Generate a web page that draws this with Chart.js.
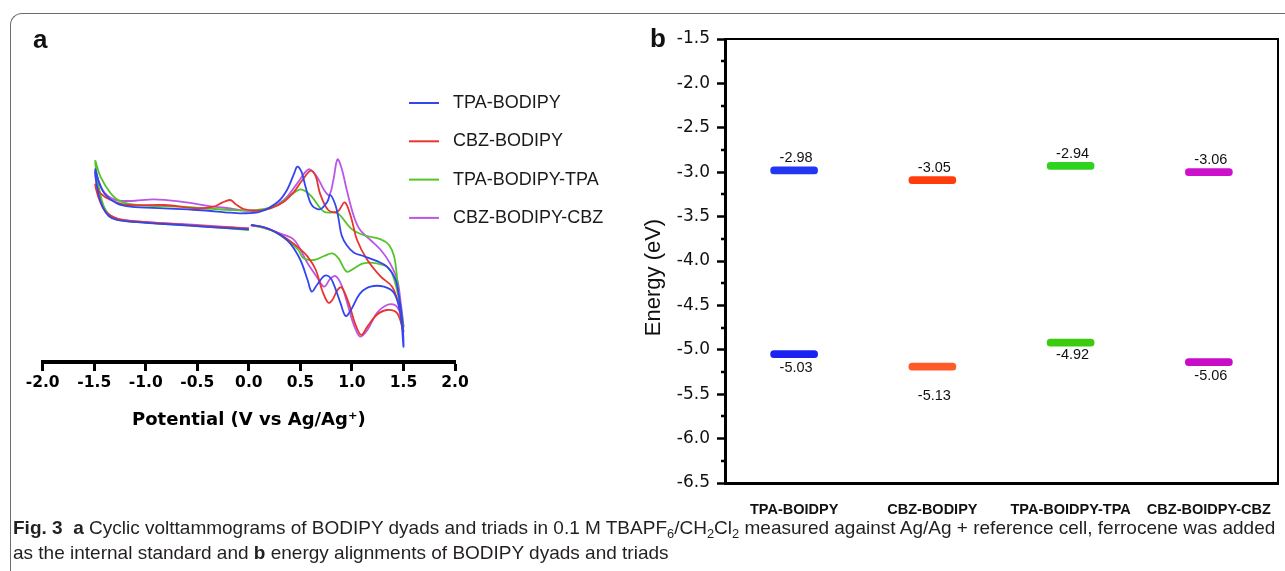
<!DOCTYPE html>
<html>
<head>
<meta charset="utf-8">
<script src="https://cdn.jsdelivr.net/npm/chart.js@4.4.1/dist/chart.umd.min.js"></script>
<style>
  html, body { margin: 0; padding: 0; background: #fff; }
  body { width: 1285px; height: 571px; position: relative; overflow: hidden; font-family: "Liberation Sans", Arial, sans-serif; }
  .frame { position: absolute; left: 10px; top: 13px; width: 1300px; height: 600px;
           border-left: 1.5px solid #6b6b6b; border-top: 1.5px solid #6b6b6b; border-top-left-radius: 12px; }
  .tag { position: absolute; font-weight: bold; font-size: 26px; line-height: 26px; color: #111; }
  canvas { position: absolute; top: 0; }
  #cvChart { left: 0; }
  #levelChart { left: 640px; }
  .caption { position: absolute; left: 13px; top: 515px; font-family: "Liberation Sans Narrow", "Liberation Sans", sans-serif;
             font-size: 19px; line-height: 25px; color: #231f20; white-space: nowrap; }
  .caption sub { font-size: 68%; vertical-align: -0.3em; line-height: 0; }
</style>
</head>
<body>
<div class="frame"></div>
<canvas id="cvChart" width="640" height="440"></canvas>
<canvas id="levelChart" width="645" height="520"></canvas>
<div class="tag" style="left:33px; top:26px;">a</div>
<div class="tag" style="left:650px; top:25px;">b</div>
<div class="caption"><b>Fig. 3</b>&nbsp; <b>a</b> Cyclic volttammograms of BODIPY dyads and triads in 0.1 M TBAPF<sub>6</sub>/CH<sub>2</sub>Cl<sub>2</sub> measured against Ag/Ag + reference cell, ferrocene was added<br>as the internal standard and <b>b</b> energy alignments of BODIPY dyads and triads</div>

<script>
// ========================
// PANEL A DATA (potential in V, current in arbitrary units)
// ========================
const cvNames = ['TPA-BODIPY', 'CBZ-BODIPY', 'TPA-BODIPY-TPA', 'CBZ-BODIPY-CBZ'];
const cvColors = ['#3346ee', '#e8352f', '#55c42b', '#bb55e8'];

// each trace: 0 V -> -1.5 V -> +1.5 V -> back to 0 V
const tpaPotential = [0.00, -0.34, -0.82, -1.15, -1.28, -1.36, -1.42, -1.46, -1.49,
  -1.45, -1.39, -1.28, -1.15, -0.82, -0.50, -0.18, -0.08, 0.11, 0.28, 0.37, 0.44, 0.47, 0.51, 0.55, 0.61, 0.69, 0.76, 0.79, 0.84,
  0.87, 0.90, 0.95, 1.02, 1.12, 1.25, 1.34, 1.42, 1.45, 1.49, 1.50,
  1.47, 1.41, 1.31, 1.18, 1.08, 0.99, 0.94, 0.89, 0.82, 0.78, 0.73, 0.66, 0.61, 0.57, 0.50, 0.40, 0.28, 0.15, 0.02];
const tpaCurrent = [3.98, 4.04, 4.14, 4.21, 4.26, 4.38, 4.66, 5.06, 5.78,
  5.36, 5.01, 4.76, 4.66, 4.61, 4.56, 4.48, 4.46, 4.51, 4.80, 5.16, 5.66, 5.86, 5.71, 5.26, 4.71, 4.58, 4.80, 5.01, 4.71,
  4.30, 3.80, 3.50, 3.28, 3.17, 3.02, 2.86, 2.50, 2.10, 1.20, 0.46,
  1.46, 2.06, 2.26, 2.26, 2.06, 1.56, 1.38, 1.76, 2.36, 2.56, 2.58, 2.31, 2.11, 2.46, 3.06, 3.56, 3.86, 4.04, 4.11];

const cbzPotential = [0.00, -0.34, -0.82, -1.15, -1.28, -1.39, -1.45, -1.49,
  -1.44, -1.34, -1.18, -0.82, -0.50, -0.34, -0.26, -0.18, -0.13, -0.05, 0.08, 0.21, 0.34, 0.44, 0.52, 0.60, 0.65, 0.69, 0.77, 0.86,
  0.93, 0.99, 1.05, 1.15, 1.28, 1.39, 1.45, 1.49, 1.50,
  1.44, 1.34, 1.24, 1.15, 1.09, 1.03, 0.97, 0.90, 0.86, 0.81, 0.77, 0.71, 0.65, 0.57, 0.47, 0.34, 0.18, 0.02];
const cbzCurrent = [4.01, 4.06, 4.16, 4.23, 4.30, 4.51, 4.86, 5.33,
  5.06, 4.86, 4.71, 4.71, 4.61, 4.66, 4.78, 4.86, 4.74, 4.59, 4.54, 4.61, 4.81, 5.11, 5.46, 5.74, 5.56, 5.06, 4.56, 4.51,
  4.79, 4.36, 3.66, 3.06, 2.56, 2.26, 1.76, 1.10, 0.91,
  1.46, 1.56, 1.41, 1.06, 0.81, 1.16, 1.76, 2.24, 2.16, 1.86, 1.78, 2.16, 2.76, 3.16, 3.46, 3.76, 4.01, 4.11];

const tpaTriadPotential = [0.00, -0.50, -0.99, -1.28, -1.39, -1.45, -1.49,
  -1.44, -1.34, -1.24, -1.08, -0.66, -0.18, 0.08, 0.28, 0.42, 0.50, 0.55, 0.61, 0.73, 0.86, 0.99, 1.11, 1.28, 1.36, 1.41, 1.44, 1.46, 1.50,
  1.47, 1.42, 1.36, 1.24, 1.11, 1.02, 0.95, 0.87, 0.81, 0.73, 0.63, 0.53, 0.48, 0.37, 0.21, 0.02];
const tpaTriadCurrent = [3.96, 4.08, 4.18, 4.28, 4.56, 5.16, 6.03,
  5.56, 5.06, 4.81, 4.71, 4.66, 4.56, 4.56, 4.71, 5.04, 5.18, 5.12, 4.96, 4.51, 4.46, 4.01, 3.81, 3.68, 3.51, 3.16, 2.46, 1.76, 1.06,
  1.66, 2.36, 2.81, 2.96, 2.96, 2.81, 2.71, 3.11, 3.26, 3.18, 3.06, 3.11, 3.36, 3.66, 3.96, 4.11];

const cbzTriadPotential = [0.00, -0.66, -1.21, -1.37, -1.45, -1.49,
  -1.42, -1.31, -1.15, -0.92, -0.66, -0.34, -0.18, -0.05, 0.15, 0.34, 0.47, 0.58, 0.66, 0.73, 0.78, 0.82, 0.86, 0.90, 0.95,
  1.02, 1.08, 1.18, 1.28, 1.37, 1.44, 1.47, 1.50,
  1.47, 1.42, 1.34, 1.24, 1.15, 1.08, 1.02, 0.97, 0.90, 0.84, 0.79, 0.73, 0.66, 0.57, 0.44, 0.30, 0.15, 0.02];
const cbzTriadCurrent = [4.01, 4.14, 4.26, 4.46, 4.96, 5.71,
  5.16, 4.88, 4.83, 4.88, 4.81, 4.66, 4.61, 4.54, 4.56, 4.86, 5.36, 5.78, 5.56, 5.16, 5.01, 5.46, 6.08, 5.81, 5.16,
  4.36, 3.96, 3.66, 3.36, 2.96, 2.46, 1.86, 1.06,
  1.46, 1.70, 1.71, 1.46, 0.96, 0.76, 1.10, 1.60, 2.30, 2.58, 2.50, 2.26, 2.55, 2.96, 3.66, 3.86, 4.02, 4.11];

const potentialTicks = [-2.0, 2.0, 0.5]; // min, max, step

// ========================
// PANEL B DATA (energy in eV)
// ========================
const levelNames = ['TPA-BOIDPY', 'CBZ-BODIPY', 'TPA-BOIDPY-TPA', 'CBZ-BOIDPY-CBZ'];
const lumoLevels = [-2.98, -3.09, -2.93, -3.00];
const homoLevels = [-5.05, -5.19, -4.92, -5.14];
const lumoLabels = ['-2.98', '-3.05', '-2.94', '-3.06'];
const homoLabels = ['-5.03', '-5.13', '-4.92', '-5.06'];
const lumoColors = ['#2236f4', '#ff3c0c', '#2fd21c', '#cc10cc'];
const homoColors = ['#1a22f2', '#ff5a2a', '#3ccc0e', '#c80cc8'];
const energyTicks = [-6.5, -1.5, 0.5]; // min, max, step

// ========================
// PLUGINS
// ========================
// legend of the voltammograms, top right of panel a
const cvLegend = {
    id: 'cvLegend',
    afterDraw(chart) {
        const ctx = chart.ctx;
        ctx.save();
        ctx.font = '18px "Liberation Sans", Arial, sans-serif';
        ctx.textBaseline = 'middle';
        chart.data.datasets.forEach((ds, i) => {
            const y = 103 + i * 38.3;
            ctx.strokeStyle = ds.borderColor;
            ctx.lineWidth = 2;
            ctx.beginPath();
            ctx.moveTo(409, y);
            ctx.lineTo(439, y);
            ctx.stroke();
            ctx.fillStyle = '#1a1a1a';
            ctx.fillText(ds.label, 453, y);
        });
        ctx.restore();
    }
};

// value written above LUMO and below HOMO bars
const levelLabels = {
    id: 'levelLabels',
    afterDatasetsDraw(chart, args, opts) {
        const {ctx, scales: {x, y}} = chart;
        ctx.save();
        ctx.font = '14.5px "Liberation Sans", Arial, sans-serif';
        ctx.fillStyle = '#111';
        ctx.textAlign = 'center';
        ctx.textBaseline = 'middle';
        levelNames.forEach((name, i) => {
            const cx = x.getPixelForValue(i) + 2;
            ctx.fillText(lumoLabels[i], cx, y.getPixelForValue(lumoLevels[i]) - opts.lumoGap[i]);
            ctx.fillText(homoLabels[i], cx, y.getPixelForValue(homoLevels[i]) + opts.homoGap[i]);
        });
        ctx.restore();
    }
};

// closes the plot box and adds the small unlabelled ticks
const plotBox = {
    id: 'plotBox',
    afterDraw(chart) {
        const {ctx, chartArea: a, scales: {y}} = chart;
        ctx.save();
        ctx.strokeStyle = '#000';
        ctx.lineWidth = 2;
        ctx.beginPath();
        ctx.moveTo(a.left, a.top);
        ctx.lineTo(a.right, a.top);
        ctx.lineTo(a.right, a.bottom);
        ctx.stroke();
        ctx.lineWidth = 2.5;
        for (let v = y.min + 0.25; v < y.max; v += 0.5) {
            const py = Math.round(y.getPixelForValue(v));
            ctx.beginPath();
            ctx.moveTo(a.left - 4, py);
            ctx.lineTo(a.left, py);
            ctx.stroke();
        }
        ctx.restore();
    }
};

// ========================
// PANEL A CHART
// ========================
function toPoints(xs, ys) {
    return xs.map((v, i) => ({x: v, y: ys[i]}));
}

const cvSeries = [
    toPoints(tpaPotential, tpaCurrent),
    toPoints(cbzPotential, cbzCurrent),
    toPoints(tpaTriadPotential, tpaTriadCurrent),
    toPoints(cbzTriadPotential, cbzTriadCurrent)
];

new Chart(document.getElementById('cvChart'), {
    type: 'scatter',
    data: {
        datasets: cvSeries.map((pts, i) => ({
            label: cvNames[i],
            data: pts,
            showLine: true,
            borderColor: cvColors[i],
            backgroundColor: cvColors[i],
            borderWidth: 1.8,
            pointRadius: 0,
            tension: 0.35
        }))
    },
    options: {
        responsive: false,
        animation: false,
        layout: { padding: { left: 42.7, right: 185, top: 112, bottom: 0 } },
        plugins: { legend: { display: false }, tooltip: { enabled: false } },
        scales: {
            x: {
                type: 'linear',
                min: potentialTicks[0],
                max: potentialTicks[1],
                ticks: {
                    stepSize: potentialTicks[2],
                    callback: v => v.toFixed(1),
                    font: { family: 'DejaVu Sans', weight: 'bold', size: 15.5 },
                    color: '#000',
                    padding: 3,
                    maxRotation: 0
                },
                grid: { drawOnChartArea: false, drawTicks: true, tickLength: 9, tickWidth: 3, tickColor: '#000', color: '#000' },
                border: { display: true, color: '#000', width: 4 },
                title: {
                    display: true,
                    text: 'Potential (V vs Ag/Ag\u207A)',
                    font: { family: 'DejaVu Sans', weight: 'bold', size: 18 },
                    color: '#000',
                    padding: { top: 4, bottom: 9 }
                },
                afterFit: s => { s.height = 78; }
            },
            y: { display: false, min: 0, max: 7.5 }
        }
    },
    plugins: [cvLegend]
});

// ========================
// PANEL B CHART
// ========================
const barHalf = 0.04; // half thickness of a level bar, eV

new Chart(document.getElementById('levelChart'), {
    type: 'bar',
    data: {
        labels: levelNames,
        datasets: [
            { label: 'LUMO', data: lumoLevels.map(v => [v - barHalf, v + barHalf]), backgroundColor: lumoColors },
            { label: 'HOMO', data: homoLevels.map(v => [v - barHalf, v + barHalf]), backgroundColor: homoColors }
        ]
    },
    options: {
        responsive: false,
        animation: false,
        layout: { padding: { left: 0, right: 7, top: 39, bottom: 0 } },
        datasets: { bar: { grouped: false, barThickness: 47, borderRadius: 4, borderSkipped: false } },
        plugins: {
            legend: { display: false },
            tooltip: { enabled: false },
            levelLabels: { lumoGap: [12, 12, 12, 12], homoGap: [14, 29, 12, 14] }
        },
        scales: {
            x: {
                type: 'category',
                offset: true,
                // invisible tick marks keep the labels clear of the axis
                grid: { display: true, drawOnChartArea: false, drawTicks: true, tickLength: 18, tickColor: 'rgba(0,0,0,0)' },
                border: { display: true, color: '#000', width: 3 },
                ticks: {
                    font: { family: '"Liberation Sans", Arial, sans-serif', weight: 'bold', size: 14.5 },
                    color: '#111',
                    padding: 0,
                    maxRotation: 0,
                    minRotation: 0,
                    autoSkip: false
                },
                afterFit: s => { s.height = 37; }
            },
            y: {
                min: energyTicks[0],
                max: energyTicks[1],
                ticks: {
                    stepSize: energyTicks[2],
                    callback: v => v.toFixed(1),
                    font: { family: 'DejaVu Sans', size: 17 },
                    color: '#111',
                    padding: 7
                },
                grid: { drawOnChartArea: false, tickLength: 8, tickWidth: 2.5, tickColor: '#000', color: '#000' },
                border: { display: true, color: '#000', width: 3 },
                title: {
                    display: true,
                    text: 'Energy (eV)\u2002\u2002\u2002',
                    font: { family: '"Liberation Sans", Arial, sans-serif', size: 22 },
                    color: '#111',
                    padding: { top: 1, bottom: 0 }
                },
                afterFit: s => { s.width = 85; }
            }
        }
    },
    plugins: [levelLabels, plotBox]
});
</script>
</body>
</html>
